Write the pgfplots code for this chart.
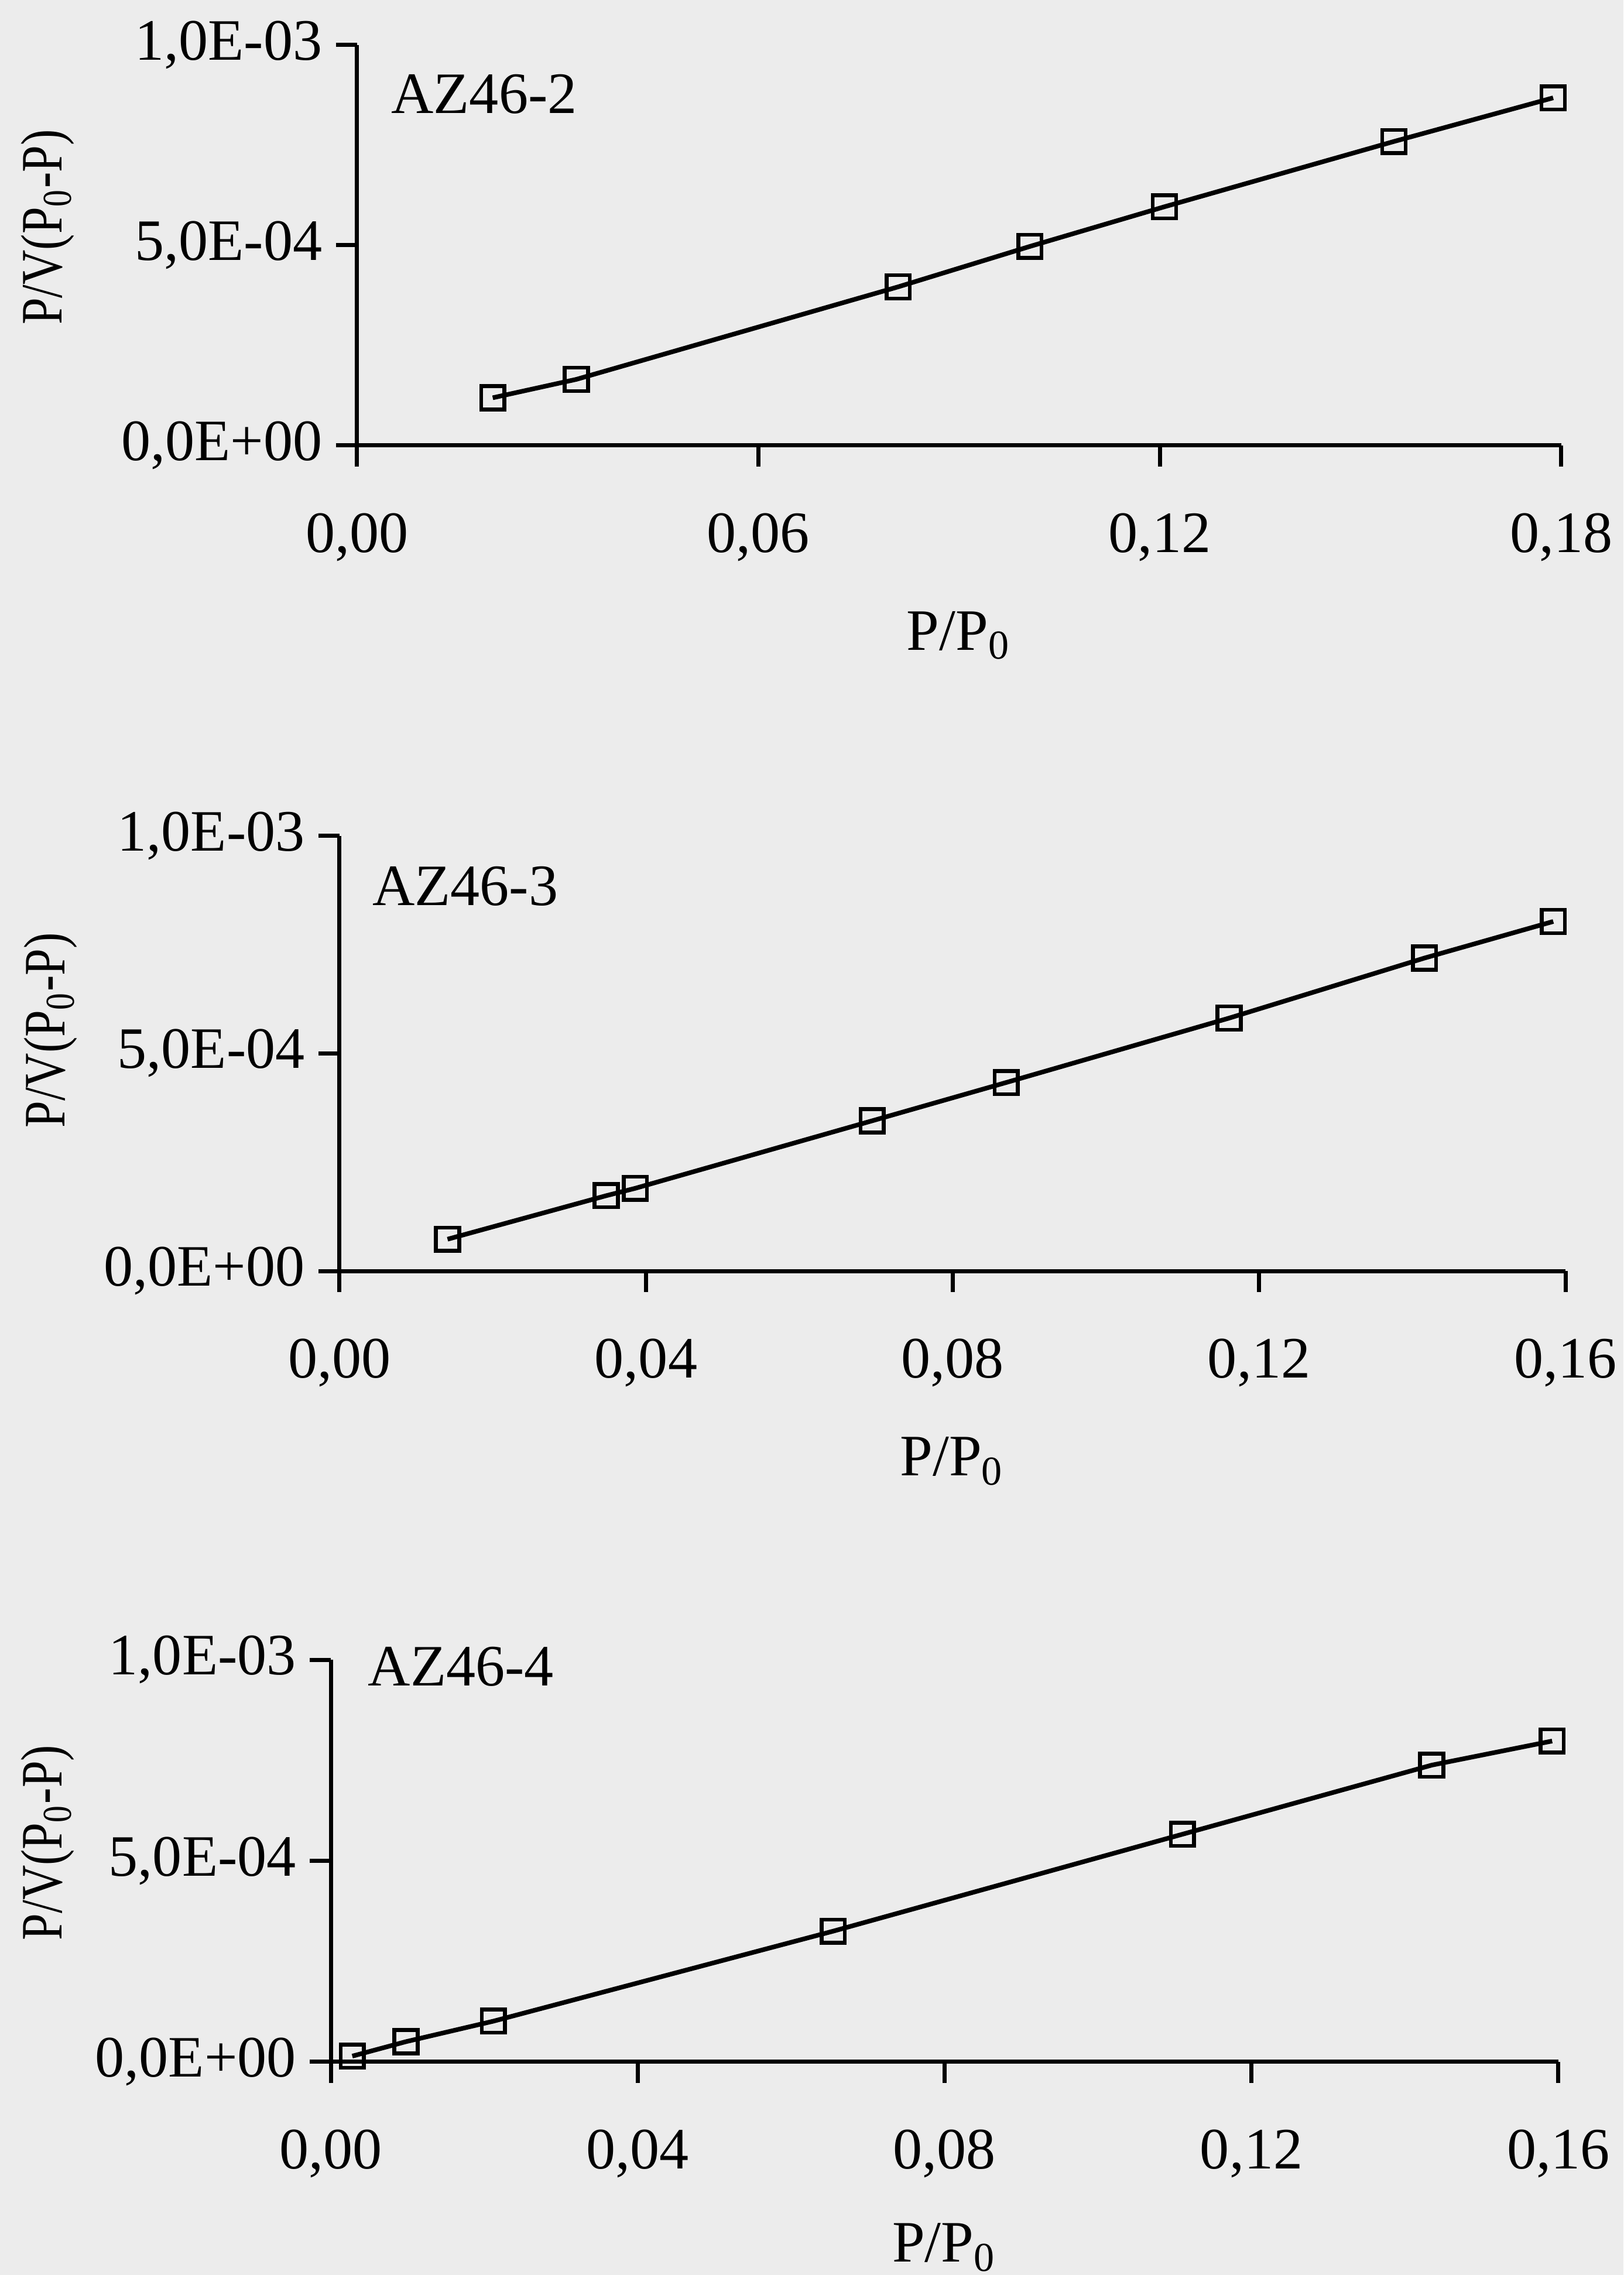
\documentclass[border=0pt]{standalone}
\usepackage{fontspec}
\setmainfont{Liberation Serif}
\usepackage{graphicx}
\usepackage{pgfplots}
\pgfplotsset{compat=1.18}
\usepackage{pgfplotstable}
\definecolor{paper}{RGB}{236,236,236}

\pgfplotstableread{
x y
0.0203 1.19e-4
0.0328 1.65e-4
0.0809 3.96e-4
0.1006 4.97e-4
0.1207 5.96e-4
0.1550 7.59e-4
0.1788 8.68e-4
}\dataA
\pgfplotstableread{
x y
0.0141 0.73e-4
0.0348 1.73e-4
0.0386 1.90e-4
0.0695 3.45e-4
0.0870 4.33e-4
0.1161 5.81e-4
0.1416 7.19e-4
0.1584 8.03e-4
}\dataB
\pgfplotstableread{
x y
0.0028 0.14e-4
0.0098 0.50e-4
0.0212 1.01e-4
0.0655 3.25e-4
0.1110 5.66e-4
0.1435 7.38e-4
0.1592 7.98e-4
}\dataC

\newcommand{\fs}{\fontsize{11.5}{13}\selectfont}

\pgfplotsset{
  panel/.style={
    scale only axis,
    anchor=origin,
    axis x line*=bottom,
    axis y line*=left,
    axis line style={line width=0.8pt},
    every tick/.style={black, line width=0.8pt},
    tick align=outside,
    major tick length=0.145cm,
    ymin=0, ymax=1e-3,
    xmin=0,
    scaled y ticks=false,
    scaled x ticks=false,
    ytick={0,5e-4,1e-3},
    yticklabels={{0,0E+00},{5,0E-04},{1,0E-03}},
    tick label style={font=\fs},
    xticklabel style={yshift=-0.2cm},
    yticklabel style={xshift=0.03cm},
    clip=false,
    xlabel={P/P\textsubscript{0}},
    xlabel style={font=\fs, at={(axis description cs:0.5,0)}, anchor=base, yshift=-1.41cm},
    ylabel={\scalebox{0.82}[1]{P/V(P\textsubscript{0}-P)}},
    label style={font=\fs},
  },
  ser/.style={black, line width=0.9pt, mark=square, mark size=0.08cm,
    mark options={solid, line width=0.75pt, fill=none}},
}

\begin{document}
\begin{tikzpicture}
\useasboundingbox (0,0) rectangle (11.19,-15.68);
\fill[paper] (0,0) rectangle (11.19,-15.68);

% Panel 1
\begin{axis}[panel, at={(2.46cm,-3.07cm)}, width=8.30cm, height=2.76cm,
  xmax=0.18, xtick={0,0.06,0.12,0.18},
  xticklabels={{0,00},{0,06},{0,12},{0,18}},
  ylabel style={at={(axis description cs:-0.2566,0.545)}, anchor=center}]
\addplot[ser] table[x=x,y=y] {\dataA};
\node[anchor=base west, inner sep=0, font=\fs, xshift=0.23cm, yshift=-0.47cm] at (rel axis cs:0,1) {AZ46-2};
\end{axis}

% Panel 2
\begin{axis}[panel, at={(2.34cm,-8.76cm)}, width=8.45cm, height=3.00cm,
  xmax=0.16, xtick={0,0.04,0.08,0.12,0.16},
  xticklabels={{0,00},{0,04},{0,08},{0,12},{0,16}},
  ylabel style={at={(axis description cs:-0.2355,0.553)}, anchor=center}]
\addplot[ser] table[x=x,y=y] {\dataB};
\node[anchor=base west, inner sep=0, font=\fs, xshift=0.22cm, yshift=-0.48cm] at (rel axis cs:0,1) {AZ46-3};
\end{axis}

% Panel 3
\begin{axis}[panel, at={(2.28cm,-14.21cm)}, width=8.46cm, height=2.77cm,
  xmax=0.16, xtick={0,0.04,0.08,0.12,0.16},
  xticklabels={{0,00},{0,04},{0,08},{0,12},{0,16}},
  xlabel style={yshift=0.03cm},
  ylabel style={at={(axis description cs:-0.2305,0.545)}, anchor=center}]
\addplot[ser] table[x=x,y=y] {\dataC};
\node[anchor=base west, inner sep=0, font=\fs, xshift=0.25cm, yshift=-0.18cm] at (rel axis cs:0,1) {AZ46-4};
\end{axis}
\end{tikzpicture}
\end{document}
